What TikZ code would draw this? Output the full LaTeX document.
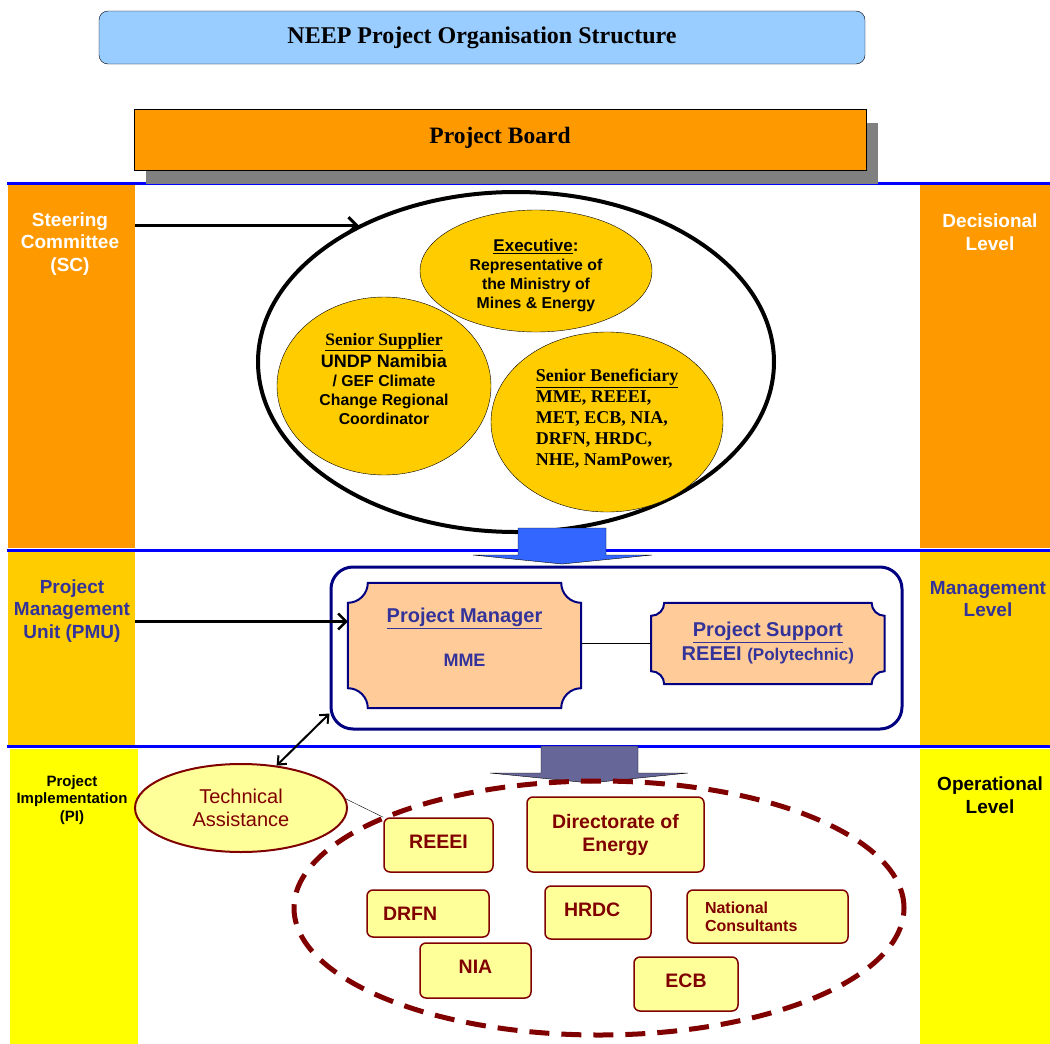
\documentclass[tikz,border=0pt]{standalone}
\usepackage{fontspec}
\setmainfont{Liberation Serif}
\setsansfont{Liberation Sans}
\usepackage{tikz}
\usetikzlibrary{shapes.geometric, positioning, arrows.meta, calc, shadows}

\definecolor{titleblue}{HTML}{99CCFF}
\definecolor{boardorange}{HTML}{FF9900}
\definecolor{gold}{HTML}{FFCC00}
\definecolor{opsyellow}{HTML}{FFFF00}
\definecolor{navytext}{HTML}{333399}
\definecolor{navyline}{HTML}{000080}
\definecolor{peach}{HTML}{FFCC99}
\definecolor{paleyellow}{HTML}{FFFF99}
\definecolor{darkred}{HTML}{800000}
\definecolor{arrowblue}{HTML}{3366FF}
\definecolor{slate}{HTML}{666699}

\pgfdeclarelayer{back}
\pgfsetlayers{back,main}

\tikzset{
  titlebox/.style={rectangle, rounded corners=9pt, draw=black, fill=titleblue, minimum width=766pt, minimum height=53pt, font=\fontsize{24}{28}\selectfont\bfseries},
  boardbox/.style={rectangle, draw=black, fill=boardorange, minimum width=732pt, minimum height=61pt, font=\fontsize{23.5}{28}\selectfont\bfseries,
    drop shadow={shadow xshift=12pt, shadow yshift=-13pt, fill=black!50, opacity=1}},
  band/.style={rectangle, anchor=north west, inner sep=0pt, draw=none},
  bandtext/.style={align=center, font=\sffamily\bfseries\fontsize{19}{22.5}\selectfont},
  levelline/.style={blue, line width=3pt},
  member/.style={ellipse, draw=black, fill=gold, inner sep=0pt},
  membertext/.style={inner sep=0pt, align=center, font=\sffamily\bfseries\fontsize{15.8}{19}\selectfont},
  plaqueline/.style={draw=navyline, line width=2pt, fill=peach},
  plaquetext/.style={inner sep=0pt, align=center, text=navytext, font=\sffamily\bfseries\fontsize{20}{24}\selectfont},
  unit/.style={rectangle, rounded corners=6pt, draw=darkred, line width=1.5pt, fill=paleyellow, inner sep=0pt, text=darkred, align=center, font=\sffamily\bfseries\fontsize{19.5}{23}\selectfont},
  arrow/.style={line width=3pt, -{Straight Barb[length=8pt, width=16pt]}},
  dblarrow/.style={line width=2pt, {Straight Barb[length=7pt, width=12pt]}-{Straight Barb[length=7pt, width=12pt]}}
}

% concave-cornered outline around a node
\newcommand{\plaque}[2]{%
  \filldraw[plaqueline] ([xshift=#2]#1.north west) -- ([xshift=-#2]#1.north east)
    arc[start angle=180, end angle=270, radius=#2] -- ([yshift=#2]#1.south east)
    arc[start angle=90, end angle=180, radius=#2] -- ([xshift=#2]#1.south west)
    arc[start angle=0, end angle=90, radius=#2] -- ([yshift=-#2]#1.north west)
    arc[start angle=270, end angle=360, radius=#2] -- cycle;}

\begin{document}
\begin{tikzpicture}[x=1pt, y=1pt]
  \useasboundingbox (0,0) rectangle (1050,-1044);

  % level bands
  \node (scband)   [band, fill=boardorange, minimum width=127pt, minimum height=363pt] at (8,-185) {};
  \node (pmuband)  [band, fill=gold, minimum width=127pt, minimum height=193pt] at (8,-552) {};
  \node (piband)   [band, fill=opsyellow, minimum width=128pt, minimum height=295pt] at (10,-749) {};
  \node (decband)  [band, fill=boardorange, minimum width=130pt, minimum height=363pt] at (920,-185) {};
  \node (mgmtband) [band, fill=gold, minimum width=130pt, minimum height=193pt] at (920,-552) {};
  \node (opsband)  [band, fill=opsyellow, minimum width=130pt, minimum height=295pt] at (920,-749) {};

  \node (sc)   [bandtext, text=white] at (70,-244) {Steering\\Committee\\(SC)};
  \node (pmu)  [bandtext, text=navytext] at (72,-611) {Project\\Management\\Unit (PMU)};
  \node (pi)   [bandtext, font=\sffamily\bfseries\fontsize{15}{17.5}\selectfont] at (72,-800) {Project\\Implementation\\(PI)};
  \node (dec)  [bandtext, text=white] at (990,-232) {Decisional\\Level};
  \node (mgmt) [bandtext, text=navytext] at (988,-599) {Management\\Level};
  \node (ops)  [bandtext] at (990,-795) {Operational\\Level};

  \draw[levelline] (7,-183) -- (1050,-183);
  \draw[levelline] (7,-550) -- (1050,-550);
  \draw[levelline] (7,-746) -- (1050,-746);

  \node (title) [titlebox] at (482,-37.5) {NEEP Project Organisation Structure};
  \node (board) [boardbox] at (500,-140) {\raisebox{9pt}{Project Board}};

  % decisional level
  \node (committee) [ellipse, draw=black, fill=white, line width=4pt, inner sep=0pt, minimum width=516pt, minimum height=340pt] at (516,-362) {};
  \node (exec) [member, minimum width=232pt, minimum height=122pt] at (536,-271) {};
  \node (supplier) [member, minimum width=214pt, minimum height=178pt] at (384,-386) {};
  \node (beneficiary) [member, minimum width=232pt, minimum height=180pt] at (607,-422) {};

  \node (exectext) [membertext] at ([yshift=-5pt]exec.center)
    {{\fontsize{17}{19}\selectfont\underline{Executive}:}\\Representative of\\the Ministry of\\Mines \& Energy};
  \node (suppliertext) [membertext] at ([yshift=7pt]supplier.center)
    {{\rmfamily\fontsize{17.5}{19}\selectfont\underline{Senior Supplier}}\\[3pt]{\fontsize{18}{20}\selectfont UNDP Namibia}\\/ GEF Climate\\Change Regional\\Coordinator};
  \node (beneficiarytext) [membertext, align=left, font=\rmfamily\bfseries\fontsize{18}{21}\selectfont] at ([yshift=3pt]beneficiary.center)
    {\underline{Senior Beneficiary}\\MME, REEEI,\\MET, ECB, NIA,\\DRFN, HRDC,\\NHE, NamPower,};

  \draw[arrow] (scband.east |- committee.139) -- (committee.139);

  \filldraw[fill=arrowblue, draw=black, thin] (518,-528) -- (606,-528) -- (606,-555) -- (652,-555)
    -- (562,-564) -- (473,-555) -- (518,-555) -- cycle;

  % management level
  \node (pmubox) [rectangle, draw=navyline, line width=3pt, rounded corners=22pt, minimum width=571pt, minimum height=162pt] at (616.5,-648) {};
  \node (pm) [minimum width=233pt, minimum height=125pt, inner sep=0pt] at (464.5,-645.5) {};
  \node (ps) [plaquetext, minimum width=233pt, minimum height=81pt, right=70pt of pm.east, anchor=west, yshift=2pt]
    {\underline{Project Support}\\REEEI {\fontsize{17}{18}\selectfont(Polytechnic)}};
  \node (pmtext) [plaquetext] at ([yshift=8pt]pm.center)
    {\underline{Project Manager}\\[20pt]{\fontsize{18}{20}\selectfont MME}};
  \begin{pgfonlayer}{back}
    \plaque{pm}{20pt}
    \plaque{ps}{13pt}
  \end{pgfonlayer}

  \draw[thin] (ps.west -| pm.east) -- (ps.west);
  \coordinate (pmin) at ([yshift=24pt]pm.west);
  \draw[arrow, line width=2.5pt] (pmuband.east |- pmin) -- (pmin);

  % operational level
  \filldraw[fill=slate, draw=black, thin] (541,-746) -- (638,-746) -- (638,-773) -- (688,-773)
    -- (590,-783) -- (490,-773) -- (541,-773) -- cycle;

  \node (impl) [ellipse, draw=darkred, line width=5pt, dash pattern=on 20pt off 12pt, minimum width=610pt, minimum height=254pt] at (599,-908) {};
  \node (ta) [ellipse, draw=darkred, line width=2pt, fill=paleyellow, minimum width=212pt, minimum height=88pt, align=center, text=darkred, font=\sffamily\fontsize{20}{23}\selectfont] at (241,-808) {Technical\\Assistance};

  \node (reeei) [unit, minimum width=109pt, minimum height=54pt] at (438.5,-845) {\raisebox{6pt}{REEEI}};
  \node (doe)   [unit, minimum width=177pt, minimum height=75pt] at (615.5,-834.5) {Directorate of\\Energy};
  \node (drfn)  [unit, align=left, text width=90pt, inner xsep=16pt, minimum height=47pt] at (428,-913.5) {DRFN};
  \node (hrdc)  [unit, align=left, text width=68pt, inner xsep=19pt, minimum height=53pt] at (598,-912.5) {\raisebox{6pt}{HRDC}};
  \node (natcons) [unit, align=left, text width=125pt, inner xsep=18pt, minimum height=53pt, font=\sffamily\bfseries\fontsize{16}{18}\selectfont] at (767.5,-916.5) {National\\Consultants};
  \node (nia)   [unit, minimum width=111pt, minimum height=55pt] at (475.5,-970.5) {\raisebox{8pt}{NIA}};
  \node (ecb)   [unit, minimum width=104pt, minimum height=54pt] at (686,-984) {\raisebox{6pt}{ECB}};

  \draw[dblarrow] ([yshift=17pt]pmubox.south west) -- (ta.50);
  \draw[thin] (ta.5) -- (reeei.north west);
\end{tikzpicture}
\end{document}
